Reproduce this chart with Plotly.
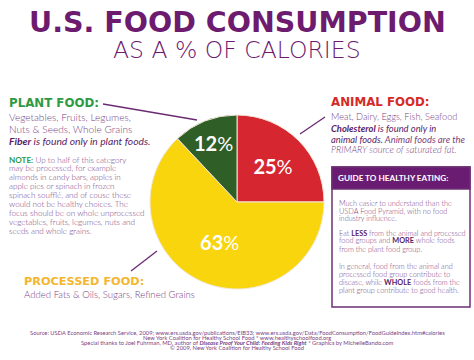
import plotly.graph_objects as go

W, H = 474, 360

categories = ["Animal Food", "Processed Food", "Plant Food"]
values = [25, 63, 12]
slice_colors = ["#d6262f", "#f8d50c", "#2f5e26"]

title1 = "U.S. FOOD CONSUMPTION"
title2 = "AS A % OF CALORIES"

PURPLE = "#6d1b6f"
TXT = "#7a3f82"
DARK = "#5a1d66"
GREEN = "#2f9a44"
RED = "#d42b27"
GOLD = "#f4b62e"
FONT = "Lato"
HEAD = "DejaVu Sans"

fig = go.Figure()
fig.add_trace(go.Pie(
    labels=categories, values=values, sort=False, direction="clockwise", rotation=0,
    marker=dict(colors=slice_colors, line=dict(color="#f3e8d8", width=1)),
    texttemplate="<b>%{value}</b>%", textposition="inside",
    insidetextorientation="horizontal",
    textfont=dict(family=FONT, size=20, color="white"),
    hoverinfo="label+percent", showlegend=False,
    domain=dict(x=[150 / W, 324 / W], y=[1 - 289 / H, 1 - 115 / H]),
))

ann = []


def txt(x, y, s, size, color=TXT, anchor="left", style=None, weight=None, family=FONT):
    f = dict(family=family, size=size, color=color)
    if style:
        f["style"] = style
    if weight:
        f["weight"] = weight
    ann.append(dict(x=x / W, y=1 - y / H, xref="paper", yref="paper", text=s,
                    showarrow=False, xanchor=anchor, yanchor="middle", align=anchor,
                    font=f))


# titles
txt(237, 22, title1, 28.5, PURPLE, anchor="center", weight="bold", family=HEAD)
txt(237, 50, title2, 23.5, PURPLE, anchor="center", weight=200,
    family="DejaVu Sans Light, DejaVu Sans ExtraLight, DejaVu Sans")

# plant food
txt(7, 103, "PLANT FOOD:", 11.8, GREEN, weight="bold", family=HEAD)
for i, s in enumerate(["Vegetables, Fruits, Legumes,", "Nuts & Seeds, Whole Grains"]):
    txt(7, 117.5 + 11.5 * i, s, 10.1, TXT, weight=300)
txt(7, 141, "<b>Fiber</b> is found only in plant foods.", 10.3, DARK, style="italic")

note = ["<span style='color:%s'><b>NOTE:</b></span> Up to half of this category" % GREEN,
        "may be processed, for example",
        "almonds in candy bars, apples in", "apple pies or spinach in frozen",
        "spinach soufflé, and of couse these", "would not be healthy choices. The",
        "focus should be on whole unprocessed", "vegetables, fruits, legumes, nuts and",
        "seeds and whole grains."]
for i, s in enumerate(note):
    txt(7, 159.5 + 8.9 * i, s, 8.1, TXT, weight=300)

# processed food
txt(22, 281, "PROCESSED FOOD:", 11.3, GOLD, weight="bold", family=HEAD)
txt(22, 294, "Added Fats & Oils, Sugars, Refined Grains", 9.6, TXT, weight=300)

# animal food
txt(329, 102, "ANIMAL FOOD:", 11.8, RED, weight="bold", family=HEAD)
txt(329, 117, "Meat, Dairy, Eggs, Fish, Seafood", 9.2, TXT, weight=300)
txt(329, 128, "<b>Cholesterol</b> is found only in", 9.4, DARK, style="italic")
txt(329, 139, "animal foods. <span style='color:%s'>Animal foods are the</span>" % TXT, 9.4, DARK, style="italic")
txt(329, 149.5, "PRIMARY source of saturated fat.", 9.3, TXT, style="italic", weight=300)

# guide box
txt(336, 178, "<b>GUIDE TO HEALTHY EATING:</b>", 8.2, "white")
guide = [(203, "Much easier to understand than the"), (211, "USDA Food Pyramid, with no food"),
         (219, "industry influence."),
         (233, "Eat <b>LESS</b> from the animal and processed"), (241, "food groups and <b>MORE</b> whole foods"),
         (249, "from the plant food group."),
         (266, "In general, food from the animal and"), (274, "processed food group contribute to"),
         (282, "disease, while <b>WHOLE</b> foods from the"), (290, "plant group contribute to good health.")]
for y, s in guide:
    s = s.replace("<b>", "<b style='color:%s'>" % DARK)
    txt(337, y, s, 7.3, TXT, weight=300)

# footer
footer = [
    "Source: USDA Economic Research Service, 2009; www.ers.usda.gov/publications/EIB33; www.ers.usda.gov/Data/FoodConsumption/FoodGuideIndex.htm#calories",
    "New York Coalition for Healthy School Food * www.healthyschoolfood.org",
    "Special thanks to Joel Fuhrman, MD, author of <b><i>Disease Proof Your Child: Feeding Kids Right</i></b> * Graphics by MichelleBando.com",
    "© 2009, New York Coalition for Healthy School Food",
]
for i, s in enumerate(footer):
    txt(237, 332.5 + 5 * i, s, 5.8, TXT, anchor="center")

shapes = [
    dict(type="line", xref="paper", yref="paper", x0=103 / W, y0=1 - 104 / H, x1=197 / W, y1=1 - 120 / H,
         line=dict(color="#6a2a72", width=1.3)),
    dict(type="line", xref="paper", yref="paper", x0=325 / W, y0=1 - 117 / H, x1=300 / W, y1=1 - 134 / H,
         line=dict(color="#6a2a72", width=1.3)),
    dict(type="line", xref="paper", yref="paper", x0=131 / W, y0=1 - 271 / H, x1=157 / W, y1=1 - 251 / H,
         line=dict(color="#6a2a72", width=1.3)),
    dict(type="rect", xref="paper", yref="paper", x0=332 / W, y0=1 - 307 / H, x1=470 / W, y1=1 - 167 / H,
         line=dict(color="#6d2f74", width=1.5), fillcolor="white", layer="below"),
    dict(type="rect", xref="paper", yref="paper", x0=332 / W, y0=1 - 189 / H, x1=470 / W, y1=1 - 167 / H,
         line=dict(color="#6d2f74", width=1.5), fillcolor="#6a1c72", layer="below"),
]

fig.update_layout(width=W, height=H, margin=dict(l=0, r=0, t=0, b=0),
                  paper_bgcolor="white", plot_bgcolor="white",
                  annotations=ann, shapes=shapes)
fig.write_html("out.html", config={"displayModeBar": False},
               post_script="document.body.style.margin='0px';")
